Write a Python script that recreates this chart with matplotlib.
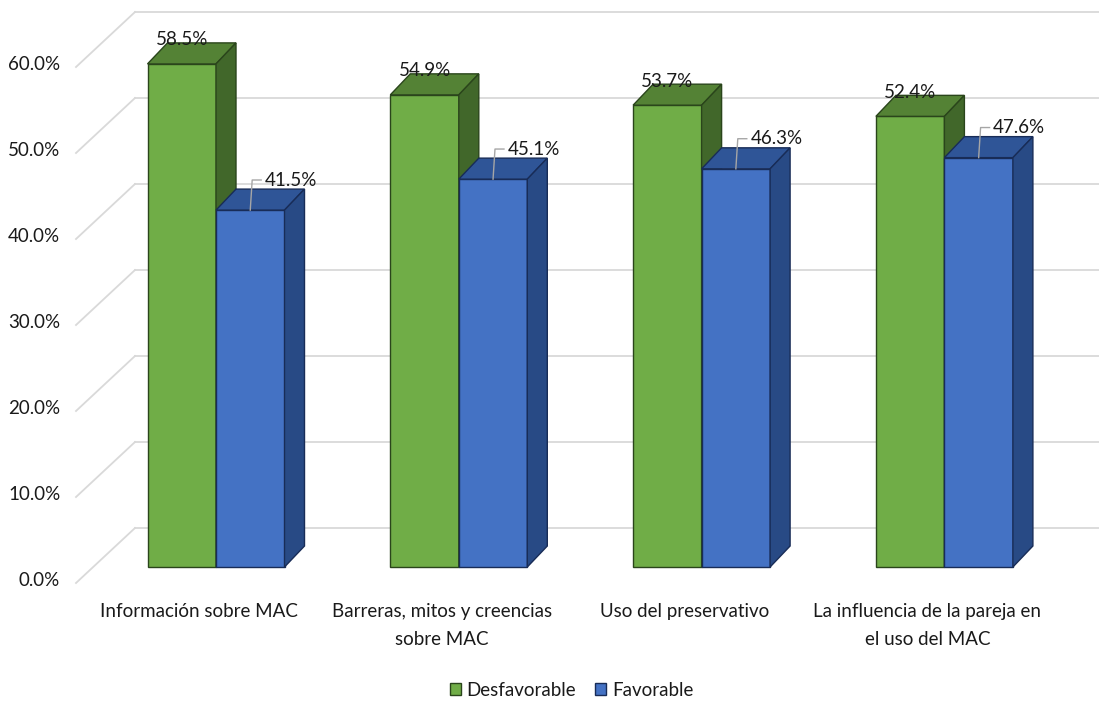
import matplotlib
matplotlib.use("Agg")
import matplotlib.pyplot as plt
from matplotlib.patches import Patch

plt.rcParams['font.family'] = ['Lato', 'DejaVu Sans']

categories = ["Información sobre MAC",
              "Barreras, mitos y creencias\nsobre MAC",
              "Uso del preservativo",
              "La influencia de la pareja en\nel uso del MAC"]
desfavorable = [58.5, 54.9, 53.7, 52.4]
favorable = [41.5, 45.1, 46.3, 47.6]
series_names = ["Desfavorable", "Favorable"]
y_ticks = [0, 10, 20, 30, 40, 50, 60]

# pixel scale of the original picture
PX = 242.8   # px per category
PY = 8.6     # px per percent
x0_px, y0_px = 216, 567   # first category centre / 0% on bar front plane

W = 68.5 / PX                      # bar width
bar_d = (20 / PX, 21 / PY)         # bar depth offset
wall_d = (42 / PX, 39 / PY)        # back wall offset from bar front plane
floor_d = (-17 / PX, -16 / PY)     # front floor edge offset
left_x = (93 - x0_px) / PX         # left wall at bar front plane
right_x = (1099 - x0_px) / PX
FS = 13.5

fig = plt.figure(figsize=(10.99, 7.08), dpi=100)
ax = fig.add_axes([0, 0, 1, 1])
ax.set_xlim(-x0_px / PX, (1099 - x0_px) / PX)
ax.set_ylim((y0_px - 708) / PY, y0_px / PY)
ax.axis('off')

grid_c = '#D9D9D9'
for t in y_ticks:
    # left wall diagonal
    ax.plot([left_x + floor_d[0], left_x + wall_d[0]],
            [t + floor_d[1], t + wall_d[1]], color=grid_c, lw=1.3, zorder=1)
    # back wall line
    ax.plot([left_x + wall_d[0], right_x + 1],
            [t + wall_d[1], t + wall_d[1]], color=grid_c, lw=1.3, zorder=1)
    ax.text(left_x + floor_d[0] - 0.065, t + floor_d[1] + 0.3, f"{t:.1f}%",
            ha='right', va='center', fontsize=FS, color='#1a1a1a')

styles = [
    dict(front='#70AD47', top='#548235', side='#41672A', edge='#2A451B'),
    dict(front='#4472C4', top='#2F5597', side='#284A85', edge='#182C57'),
]


def draw_bar(x, v, st, z):
    ax.bar(x, v, width=W, align='edge', color=st['front'],
           edgecolor=st['edge'], linewidth=1.0, zorder=z)
    dx, dy = bar_d
    ax.fill([x, x + W, x + W + dx, x + dx], [v, v, v + dy, v + dy],
            facecolor=st['top'], edgecolor=st['edge'], lw=1.0, zorder=z)
    ax.fill([x + W, x + W + dx, x + W + dx, x + W], [0, dy, v + dy, v],
            facecolor=st['side'], edgecolor=st['edge'], lw=1.0, zorder=z)


for i, (d, f) in enumerate(zip(desfavorable, favorable)):
    xg = i - W
    xb = i
    draw_bar(xg, d, styles[0], 3 + i * 2)
    draw_bar(xb, f, styles[1], 4 + i * 2)

    # labels
    ax.text(xg + W / 2, d + 2.8, f"{d:.1f}%", ha='center', va='center',
            fontsize=FS, color='#1a1a1a', zorder=20)
    cx = xb + W / 2
    ly = f + 3.5
    ax.plot([cx, cx + 0.008, cx + 0.045], [f, ly, ly], color='#A6A6A6',
            lw=1.0, zorder=19)
    ax.text(cx + 0.06, ly, f"{f:.1f}%", ha='left', va='center',
            fontsize=FS, color='#1a1a1a', zorder=20)

    ax.text(i + floor_d[0], (y0_px - 603) / PY, categories[i], ha='center',
            va='top', fontsize=FS, color='#1a1a1a', linespacing=1.8)

handles = [Patch(facecolor=styles[0]['front'], edgecolor=styles[0]['edge']),
           Patch(facecolor=styles[1]['front'], edgecolor=styles[1]['edge'])]
fig.legend(handles, series_names, loc='center', bbox_to_anchor=(0.52, 0.025),
           ncol=2, frameon=False, fontsize=FS, handlelength=0.6,
           handleheight=0.6, handletextpad=0.3, columnspacing=1.0,
           labelcolor='#1a1a1a')

fig.savefig("out.png", dpi=100)
